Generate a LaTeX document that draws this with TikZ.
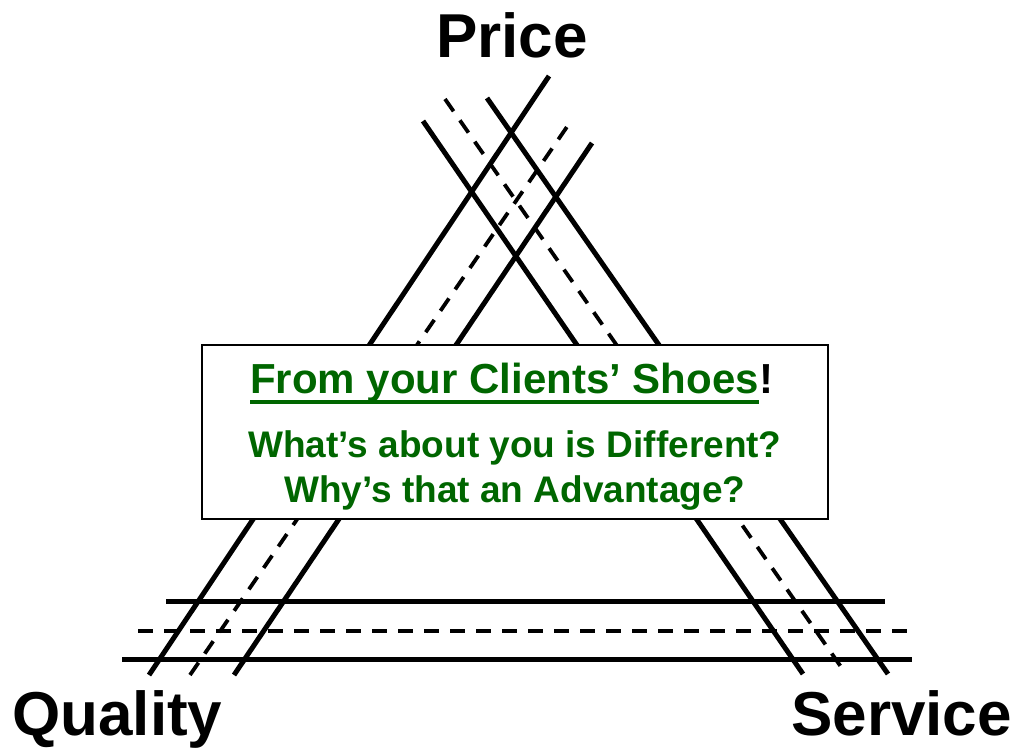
\documentclass[tikz,border=0pt]{standalone}
\usepackage{fontspec}
\setmainfont{Liberation Sans}
\usepackage{tikz}
\usetikzlibrary{positioning,calc}
\definecolor{dkgreen}{RGB}{0,102,0}

\tikzset{
  rail/.style={line width=5pt},
  dashrail/.style={line width=3.8pt,dash pattern=on 15pt off 11pt},
  corner/.style={font=\bfseries\fontsize{62}{70}\selectfont,inner sep=0pt,anchor=base},
  msg/.style={font=\bfseries\fontsize{37}{44}\selectfont,text=dkgreen,inner sep=0pt,anchor=base}
}

\begin{document}
\begin{tikzpicture}[x=1pt,y=-1pt]
   \useasboundingbox (0,0) rectangle (1015,750);

   % left leg: quality -- price
   \coordinate (qa) at (149,675); \coordinate (pa) at (549,76);
   \coordinate (qb) at (190,675); \coordinate (pb) at (571,121);
   \coordinate (qc) at (234,675); \coordinate (pc) at (592,143);
   % right leg: price -- service
   \coordinate (pd) at (423,121); \coordinate (sd) at (803,674);
   \coordinate (pe) at (445,99);  \coordinate (se) at (846,674);
   \coordinate (pf) at (487,98);  \coordinate (sf) at (888,674);
   % base: quality -- service
   \coordinate (qg) at (166,601); \coordinate (sg) at (885,601);
   \coordinate (qh) at (138,631); \coordinate (sh) at (910,631);
   \coordinate (qi) at (122,659); \coordinate (si) at (912,659);

   \draw[rail] (qa) -- (pa) (qc) -- (pc);
   \draw[dashrail] (qb) -- (pb);
   \draw[rail] (pd) -- (sd) (pf) -- (sf);
   \draw[dashrail] (pe) -- (se);
   \draw[rail] (qg) -- (sg) (qi) -- (si);
   \draw[dashrail] (qh) -- (sh);

   \node[draw,fill=white,line width=1.2pt,minimum width=626pt,minimum height=174pt] (box) at (515,432) {};

   \node[msg,font=\bfseries\fontsize{42}{48}\selectfont,anchor=base west] (title) at (250,393) {From your Clients’ Shoes};
   \node[corner,font=\bfseries\fontsize{42}{48}\selectfont,anchor=base west] (bang) at (title.base east) {!};
   \draw[dkgreen,line width=4pt] ([yshift=-9pt]title.base west) -- ([yshift=-9pt]title.base east);
   \node[msg] (diff) at (515,457) {What’s about you is Different?};
   \node[msg] (adv) [below=45pt of diff.base,anchor=base] {Why’s that an Advantage?};

   \node[corner] (price) at (512,57) {Price};
   \node[corner,anchor=base west] (quality) at (12,735) {Quality};
   \node[corner,anchor=base east] (service) at (1012,735) {Service};
\end{tikzpicture}
\end{document}
